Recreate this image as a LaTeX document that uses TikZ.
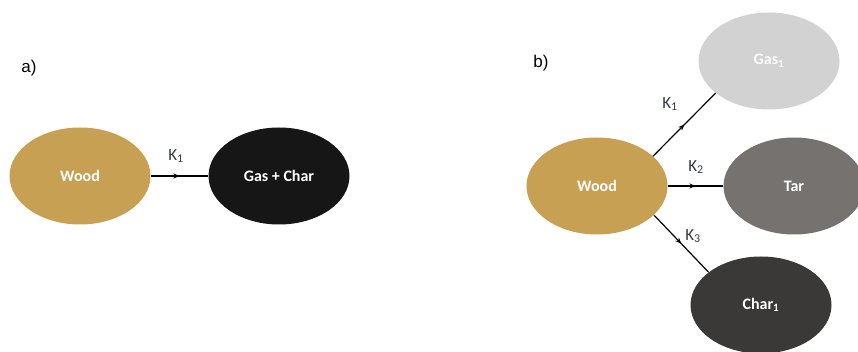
\documentclass[tikz,border=0pt]{standalone}
\usepackage{fontspec}
\setmainfont{Carlito}
\newfontfamily\labelfont{Liberation Sans}
\usetikzlibrary{shapes.geometric,arrows.meta,decorations.markings}

\definecolor{woodcol}{RGB}{200,160,84}
\definecolor{gascharcol}{RGB}{22,22,22}
\definecolor{gascol}{RGB}{210,210,210}
\definecolor{tarcol}{RGB}{118,114,112}
\definecolor{charcol}{RGB}{58,57,56}
\definecolor{ratecol}{RGB}{55,58,75}

\tikzset{
  species/.style={ellipse, inner sep=0pt, minimum width=141pt, minimum height=97pt,
    text=white, font=\fontsize{16}{18}\selectfont\bfseries},
  rate/.style={text=ratecol, font=\fontsize{17}{19}\selectfont},
  panel/.style={font=\labelfont\fontsize{17}{19}\selectfont, text=black},
  reaction/.style={draw=black, line width=1.2pt,
    postaction={decorate, decoration={markings,
      mark=at position 0.5 with {\arrow{Stealth[length=6pt,width=5pt]}}}}}
}

\begin{document}
\begin{tikzpicture}[x=1pt, y=-1pt]
  \useasboundingbox (0,0) rectangle (858,352);
  \fill[white] (0,0) rectangle (858,352);

  % a) single-step scheme
  \node[panel] (pa) at (29,68) {a)};
  \node[species, fill=woodcol] (wa) at (80,176) {Wood};
  \node[species, fill=gascharcol] (gc) at (279,176) {Gas + Char};
  \draw[reaction] (wa.east) -- (gc.west);
  \node[rate] (ka) at (176,156) {K\textsubscript{1}};

  % b) three competing reactions
  \node[panel] (pb) at (541,63) {b)};
  \node[species, fill=woodcol] (wb) at (597,186) {Wood};
  \node[species, fill=gascol, text=white!94!gascol] (gas) at (769,61) {Gas\textsubscript{1}};
  \node[species, fill=tarcol] (tar) at (794,186) {Tar};
  \node[species, fill=charcol] (char) at (761,305) {Char\textsubscript{1}};

  \draw[reaction] (wb.28) -- (gas.211);
  \draw[reaction] (wb.east) -- (tar.west);
  \draw[reaction] (wb.333) -- (char.148);

  \node[rate] (k1) at (670,104) {K\textsubscript{1}};
  \node[rate] (k2) at (696,167) {K\textsubscript{2}};
  \node[rate] (k3) at (693,236) {K\textsubscript{3}};
\end{tikzpicture}
\end{document}
